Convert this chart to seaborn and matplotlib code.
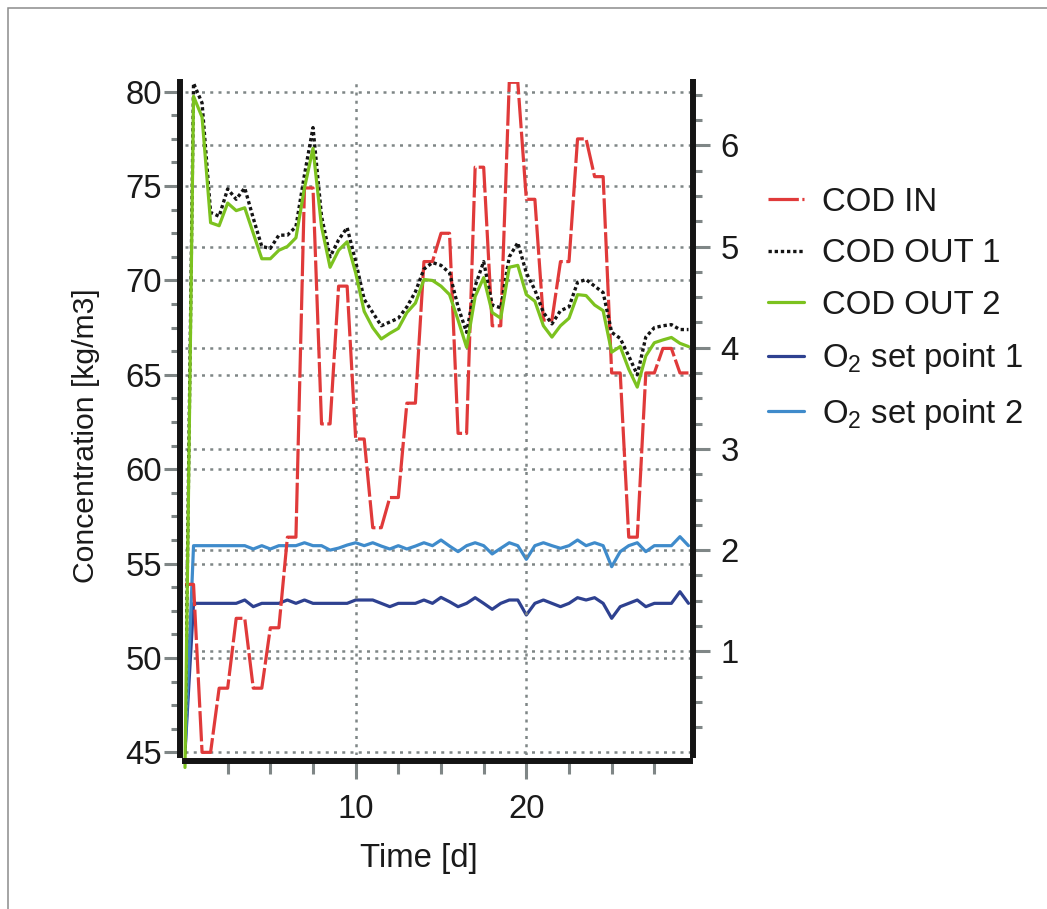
import matplotlib
matplotlib.use("Agg")
import matplotlib.pyplot as plt
import seaborn as sns
import pandas as pd
from matplotlib.ticker import FixedLocator, MultipleLocator
from matplotlib.patches import Rectangle

# ---------------- data ----------------
time_d = [0.0, 0.5, 1.0, 1.5, 2.0, 2.5, 3.0, 3.5, 4.0, 4.5,
          5.0, 5.5, 6.0, 6.5, 7.0, 7.5, 8.0, 8.5, 9.0, 9.5,
          10.0, 10.5, 11.0, 11.5, 12.0, 12.5, 13.0, 13.5, 14.0, 14.5,
          15.0, 15.5, 16.0, 16.5, 17.0, 17.5, 18.0, 18.5, 19.0, 19.5,
          20.0, 20.5, 21.0, 21.5, 22.0, 22.5, 23.0, 23.5, 24.0, 24.5,
          25.0, 25.5, 26.0, 26.5, 27.0, 27.5, 28.0, 28.5, 29.0, 29.5]

cod_in = [53.9, 53.9, 45.0, 45.0, 48.4, 48.4, 52.1, 52.1, 48.4, 48.4,
          51.6, 51.6, 56.4, 56.4, 74.9, 74.9, 62.4, 62.4, 69.7, 69.7,
          61.6, 61.6, 56.9, 56.9, 58.5, 58.5, 63.5, 63.5, 71.0, 71.0,
          72.5, 72.5, 61.9, 61.9, 76.0, 76.0, 67.6, 67.6, 80.5, 80.5,
          74.3, 74.3, 67.9, 67.9, 71.0, 71.0, 77.5, 77.5, 75.5, 75.5,
          65.1, 65.1, 56.4, 56.4, 65.1, 65.1, 66.4, 66.4, 65.1, 65.1]

cod_out1 = [44.9, 80.45, 79.4, 73.6, 73.4, 74.85, 74.3, 74.9, 73.3, 71.8,
            71.7, 72.4, 72.4, 72.85, 75.6, 78.1, 73.4, 71.25, 72.15, 72.8,
            71.0, 69.0, 68.3, 67.6, 67.8, 68.0, 68.6, 69.4, 70.6, 70.95,
            70.8, 70.4, 68.6, 67.25, 69.7, 71.0, 68.7, 68.55, 71.25, 72.0,
            70.4, 69.5, 68.3, 67.7, 68.4, 68.6, 69.9, 70.05, 69.7, 69.36,
            67.25, 66.93, 66.0, 65.0, 67.0, 67.5, 67.6, 67.66, 67.4, 67.4]

cod_out2 = [44.2, 79.76, 78.65, 73.06, 72.9, 74.1, 73.7, 73.85, 72.5, 71.15,
            71.15, 71.6, 71.8, 72.26, 74.9, 77.0, 72.85, 70.7, 71.6, 72.05,
            70.4, 68.36, 67.5, 66.9, 67.2, 67.46, 68.3, 68.8, 70.05, 70.0,
            69.7, 69.25, 67.9, 66.46, 69.15, 70.15, 68.3, 68.0, 70.7, 70.8,
            69.25, 68.9, 67.6, 67.0, 67.6, 68.0, 69.25, 69.2, 68.7, 68.4,
            66.2, 66.5, 65.3, 64.35, 66.0, 66.7, 66.85, 66.98, 66.67, 66.5]

o2_sp1 = [0.0, 1.474, 1.474, 1.474, 1.474, 1.474, 1.474, 1.507, 1.441, 1.474,
          1.474, 1.474, 1.507, 1.474, 1.507, 1.474, 1.474, 1.474, 1.474, 1.474,
          1.507, 1.507, 1.507, 1.474, 1.441, 1.474, 1.474, 1.474, 1.507, 1.474,
          1.533, 1.490, 1.441, 1.474, 1.530, 1.474, 1.415, 1.474, 1.507, 1.507,
          1.359, 1.474, 1.507, 1.474, 1.441, 1.474, 1.530, 1.507, 1.530, 1.474,
          1.326, 1.441, 1.474, 1.507, 1.441, 1.474, 1.474, 1.474, 1.589, 1.474]

o2_sp2 = [0.0, 2.044, 2.044, 2.044, 2.044, 2.044, 2.044, 2.044, 2.011, 2.044,
          2.011, 2.044, 2.044, 2.044, 2.073, 2.044, 2.044, 2.000, 2.020, 2.050,
          2.073, 2.044, 2.073, 2.040, 2.011, 2.044, 2.011, 2.040, 2.073, 2.044,
          2.100, 2.040, 1.985, 2.044, 2.073, 2.044, 1.962, 2.018, 2.073, 2.044,
          1.909, 2.044, 2.073, 2.044, 2.018, 2.044, 2.100, 2.044, 2.073, 2.044,
          1.836, 1.985, 2.044, 2.073, 1.985, 2.044, 2.044, 2.044, 2.133, 2.044]

series_labels = ["COD IN", "COD OUT 1", "COD OUT 2",
                 "O$_2$ set point 1", "O$_2$ set point 2"]
x_major = [10, 20]
left_major = [45, 50, 55, 60, 65, 70, 75, 80]
right_major = [1, 2, 3, 4, 5, 6]

df = pd.DataFrame({"t": time_d, "cod_in": cod_in, "cod_out1": cod_out1,
                   "cod_out2": cod_out2, "sp1": o2_sp1, "sp2": o2_sp2})

# ---------------- style ----------------
sns.set_theme(style="white")
plt.rcParams["font.family"] = ["Liberation Sans", "DejaVu Sans"]
plt.rcParams["mathtext.default"] = "regular"
FS = 23.7
TXT = "#1a1a1a"
GRID = "#7f8686"
SPINE = "#141414"

fig = plt.figure(figsize=(10.47, 9.09), dpi=100)
W, H = 1047, 909
ax = fig.add_axes([185 / W, 1 - 755 / H, (689.5 - 185) / W, (755 - 81.7) / H])
ax2 = ax.twinx()

# COD on the left axis
sns.lineplot(data=df, x="t", y="cod_in", ax=ax, color="#e03a3a", lw=2.3,
             linestyle=(0, (9.5, 1.1)), label=series_labels[0])
sns.lineplot(data=df, x="t", y="cod_out1", ax=ax, color="#141414", lw=2.4,
             linestyle=(0, (1.0, 0.85)), label=series_labels[1])
sns.lineplot(data=df, x="t", y="cod_out2", ax=ax, color="#7cc21f", lw=2.3,
             label=series_labels[2], clip_on=False)
# O2 set points on the right axis
sns.lineplot(data=df, x="t", y="sp1", ax=ax2, color="#2e4190", lw=2.3,
             label=series_labels[3])
sns.lineplot(data=df, x="t", y="sp2", ax=ax2, color="#3f8bcb", lw=2.3,
             label=series_labels[4])

ax.set_zorder(ax2.get_zorder() + 1)
ax.patch.set_visible(False)

ax.set_xlim(0, 29.56)
ax.set_ylim(44.86, 80.53)
ax2.set_ylim(-0.025, 6.63)

# ticks
ax.xaxis.set_major_locator(FixedLocator(x_major))
ax.xaxis.set_minor_locator(FixedLocator([2.5, 5, 7.5, 12.5, 15, 17.5, 22.5, 25, 27.5]))
ax.yaxis.set_major_locator(FixedLocator(left_major))
ax.yaxis.set_minor_locator(MultipleLocator(1.25))
ax2.yaxis.set_major_locator(FixedLocator(right_major))
ax2.yaxis.set_minor_locator(FixedLocator([k * 0.25 for k in range(1, 27) if k % 4]))

ax.tick_params(axis="y", which="major", direction="out", left=True, right=False,
               length=11.5, width=2.2, color=GRID, pad=1.3, labelsize=FS, labelcolor=TXT)
ax.tick_params(axis="y", which="minor", direction="out", left=True, right=False,
               length=6.5, width=2.2, color=GRID)
ax.tick_params(axis="x", which="major", direction="out", bottom=True, top=False,
               length=13.3, width=2.2, color=GRID, pad=10.5, labelsize=FS, labelcolor=TXT)
ax.tick_params(axis="x", which="minor", direction="out", bottom=True, top=False,
               length=9, width=2.2, color=GRID)
ax2.tick_params(axis="y", which="major", direction="out", right=True, left=False,
                length=11.9, width=2.2, color=GRID, pad=8, labelsize=FS, labelcolor=TXT)
ax2.tick_params(axis="y", which="minor", direction="out", right=True, left=False,
                length=6.8, width=2.2, color=GRID)

# spines
for s in ["top", "right"]:
    ax.spines[s].set_visible(False)
for s in ["top", "left", "bottom"]:
    ax2.spines[s].set_visible(False)
for sp, off in [(ax.spines["left"], 3.6), (ax.spines["bottom"], 4.0), (ax2.spines["right"], 2.3)]:
    sp.set_visible(True)
    sp.set_linewidth(4.3)
    sp.set_color(SPINE)
    sp.set_position(("outward", off))

# grids (dotted)
gstyle = dict(color=GRID, linestyle=(0, (1.2, 2.1)), linewidth=1.8)
ax.grid(True, which="major", axis="both", **gstyle)
ax2.grid(True, which="major", axis="y", **gstyle)
ax2.grid(False, axis="x")

# labels
ax.set_xlabel("Time [d]", fontsize=FS, color=TXT)
ax.set_ylabel("Concentration [kg/m3]", fontsize=21.7, color=TXT)
ax2.set_ylabel("")
ax.xaxis.set_label_coords(0.464, -0.131)
ax.yaxis.set_label_coords(-0.168, 0.474)

# legend
h1, l1 = ax.get_legend_handles_labels()
h2, l2 = ax2.get_legend_handles_labels()
for a in (ax, ax2):
    if a.get_legend() is not None:
        a.get_legend().remove()
leg = fig.legend(h1 + h2, l1 + l2, loc="upper left",
                 bbox_to_anchor=(768 / W, 1 - 187 / H), frameon=False, fontsize=FS,
                 handlelength=1.1, handletextpad=0.55, labelspacing=0.62,
                 borderpad=0, borderaxespad=0)
for t in leg.get_texts():
    t.set_color(TXT)

# thin grey frame (top and left edges visible)
fig.patches.append(Rectangle((8 / W, -0.05), 1.2, 1.05 - 8 / H, transform=fig.transFigure,
                             fill=False, edgecolor="#8c8c8c", linewidth=1.1))

fig.savefig("out.png", dpi=100)
